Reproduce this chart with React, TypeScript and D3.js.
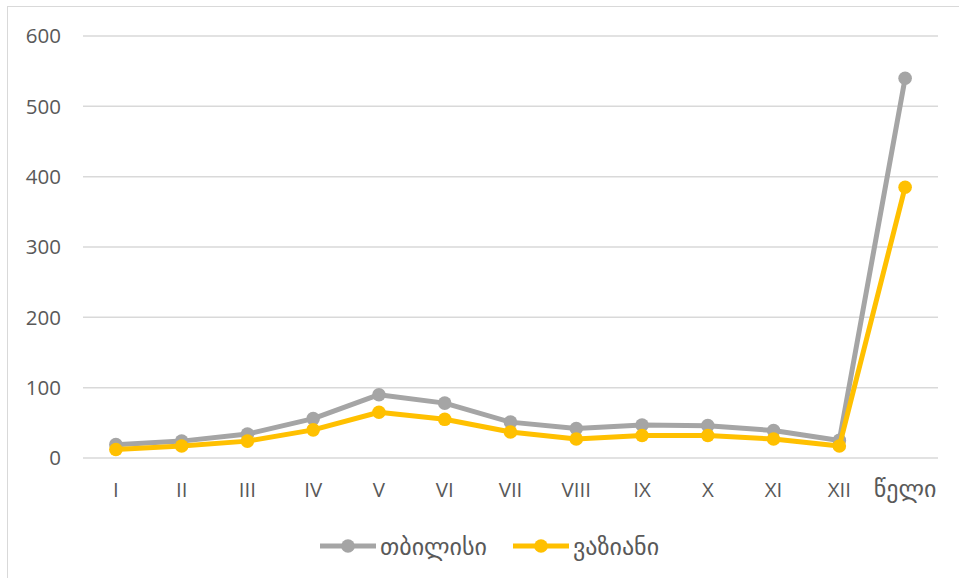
import React from "react";
import * as d3 from "d3";

const categories = ["I", "II", "III", "IV", "V", "VI", "VII", "VIII", "IX", "X", "XI", "XII", "წელი"];
const tbilisi = [19, 24, 34, 56, 90, 78, 51, 42, 47, 46, 39, 25, 540];
const vaziani = [12, 17, 24, 40, 65, 55, 37, 27, 32, 32, 27, 17, 385];
const yTicks = [0, 100, 200, 300, 400, 500, 600];
const seriesNames = ["თბილისი", "ვაზიანი"];
const seriesColors = ["#A5A5A5", "#FFC000"];

const W = 959;
const H = 578;
const m = { left: 83, right: 938, top: 36, bottom: 458 };
const font = "'Open Sans', 'DejaVu Sans', sans-serif";
const isGeorgian = (s: string) => /[\u10A0-\u10FF]/.test(s);

export default function App() {
  const x = d3.scaleBand<string>().domain(categories).range([m.left, m.right]);
  const y = d3.scaleLinear().domain([0, 600]).range([m.bottom, m.top]);
  const cx = (c: string) => (x(c) as number) + x.bandwidth() / 2;
  const line = d3
    .line<number>()
    .x((_, i) => cx(categories[i]))
    .y((d) => y(d));
  const data = [tbilisi, vaziani];
  const legendX = [320, 513];

  return (
    <svg width={W} height={H} style={{ position: "absolute", left: 0, top: 0 }}>
      <rect x={0} y={0} width={W} height={H} fill="#fff" />
      <rect x={7.5} y={6.5} width={W + 10} height={H + 10} fill="none" stroke="#D9D9D9" strokeWidth={1} />
      {yTicks.map((t) => (
        <g key={t}>
          <line x1={m.left} x2={m.right} y1={y(t)} y2={y(t)} stroke="#D9D9D9" strokeWidth={1.5} />
          <text x={61} y={y(t)} dy="0.36em" textAnchor="end" fontFamily={font} fontSize={20.5} fill="#595959">
            {t}
          </text>
        </g>
      ))}
      {categories.map((c) => (
        <text
          key={c}
          x={cx(c)}
          y={497}
          textAnchor="middle"
          fontFamily={font}
          fontSize={isGeorgian(c) ? 24 : 20.5}
          fill="#595959"
        >
          {c}
        </text>
      ))}
      {data.map((s, si) => (
        <g key={si}>
          <path d={line(s) || ""} fill="none" stroke={seriesColors[si]} strokeWidth={5} strokeLinejoin="round" />
          {s.map((v, i) => (
            <circle key={i} cx={cx(categories[i])} cy={y(v)} r={6.8} fill={seriesColors[si]} />
          ))}
        </g>
      ))}
      {seriesNames.map((n, i) => (
        <g key={n}>
          <line x1={legendX[i]} x2={legendX[i] + 56} y1={546} y2={546} stroke={seriesColors[i]} strokeWidth={5} />
          <circle cx={legendX[i] + 28} cy={546} r={6.8} fill={seriesColors[i]} />
          <text x={legendX[i] + 60} y={546} dy="0.36em" fontFamily={font} fontSize={24} fill="#595959">
            {n}
          </text>
        </g>
      ))}
    </svg>
  );
}
